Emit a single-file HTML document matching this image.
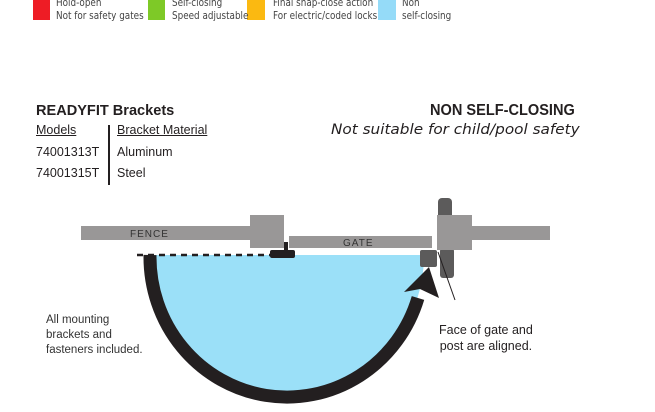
<!DOCTYPE html>
<html><head><style>
body{margin:0;width:655px;height:412px;background:#fff;position:relative;overflow:hidden;font-family:"Liberation Sans",sans-serif}
.t{position:absolute;white-space:nowrap}
.lg{font-size:10.5px;color:#444;line-height:13px;font-family:"DejaVu Sans",sans-serif;transform:scaleX(0.84);transform-origin:left}
</style></head><body>
<div style="position:absolute;left:33px;top:-2px;width:17px;height:22px;background:#ee1c25"></div>
<div style="position:absolute;left:148px;top:-2px;width:17px;height:22px;background:#7ec927"></div>
<div style="position:absolute;left:247px;top:-2px;width:18px;height:22px;background:#fbb911"></div>
<div style="position:absolute;left:378px;top:-2px;width:18px;height:22px;background:#95dbf8"></div>
<div class="t lg" style="left:56px;top:-3px">Hold-open<br>Not for safety gates</div>
<div class="t lg" style="left:172px;top:-3px">Self-closing<br>Speed adjustable</div>
<div class="t lg" style="left:273px;top:-3px">Final snap-close action<br>For electric/coded locks</div>
<div class="t lg" style="left:402px;top:-3px">Non<br>self-closing</div>

<div class="t" style="left:36px;top:102px;font-size:15px;font-weight:bold;color:#231f20;transform:scaleX(0.97);transform-origin:left">READYFIT Brackets</div>
<div class="t" style="left:36px;top:123px;font-size:12.5px;color:#231f20;text-decoration:underline">Models</div>
<div class="t" style="left:117px;top:123px;font-size:12.5px;color:#231f20;text-decoration:underline">Bracket Material</div>
<div class="t" style="left:36px;top:145px;font-size:12.5px;color:#231f20">74001313T</div>
<div class="t" style="left:117px;top:145px;font-size:12.5px;color:#231f20">Aluminum</div>
<div class="t" style="left:36px;top:166px;font-size:12.5px;color:#231f20">74001315T</div>
<div class="t" style="left:117px;top:166px;font-size:12.5px;color:#231f20">Steel</div>
<div style="position:absolute;left:108px;top:125px;width:1.5px;height:60px;background:#231f20"></div>

<div class="t" style="left:430px;top:102px;font-size:16px;font-weight:bold;color:#231f20;transform:scaleX(0.91);transform-origin:left">NON SELF-CLOSING</div>
<div class="t" style="left:331px;top:122px;font-size:14px;font-style:italic;color:#231f20;font-family:'DejaVu Sans',sans-serif;transform:scaleX(1.09);transform-origin:left">Not suitable for child/pool safety</div>

<svg style="position:absolute;left:0;top:0" width="655" height="412">
<path d="M150,255 L424,255 A137,140 0 0 1 150,255 Z" fill="#9be0f8"/>
<path d="M150,255 A137,140 0 0 0 418,298" fill="none" stroke="#231f20" stroke-width="13"/>
<polygon points="404,292 429,267 439,298 420,289" fill="#231f20"/>
<line x1="137" y1="255" x2="272" y2="255" stroke="#231f20" stroke-width="2.5" stroke-dasharray="6,5"/>
<rect x="81" y="226" width="170" height="14" fill="#999797"/>
<rect x="250" y="215" width="34" height="33" fill="#999797"/>
<rect x="289" y="236" width="143" height="12" fill="#999797"/>
<rect x="270" y="250" width="25" height="8" rx="2" fill="#231f20"/>
<rect x="284" y="242" width="4" height="10" fill="#231f20"/>
<rect x="438" y="198" width="14" height="24" rx="4" fill="#5c5b5b"/>
<rect x="440" y="248" width="14" height="30" rx="3" fill="#5c5b5b"/>
<rect x="437" y="215" width="35" height="35" fill="#999797"/>
<rect x="472" y="226" width="78" height="14" fill="#999797"/>
<rect x="420" y="250" width="17" height="17" rx="2" fill="#5c5b5b"/>
<line x1="438" y1="252" x2="455" y2="300" stroke="#231f20" stroke-width="1"/>
<text x="130" y="237" font-size="10" letter-spacing="1" fill="#333" font-family="Liberation Sans">FENCE</text>
<text x="343" y="246" font-size="10" letter-spacing="1" fill="#333" font-family="Liberation Sans">GATE</text>
</svg>
<div class="t" style="left:46px;top:313px;font-size:11.5px;color:#333;line-height:15px">All mounting<br>brackets and<br>fasteners included.</div>
<div class="t" style="left:439px;top:322px;font-size:12.5px;color:#231f20;line-height:16px;text-align:center">Face of gate and<br>post are aligned.</div>
</body></html>
